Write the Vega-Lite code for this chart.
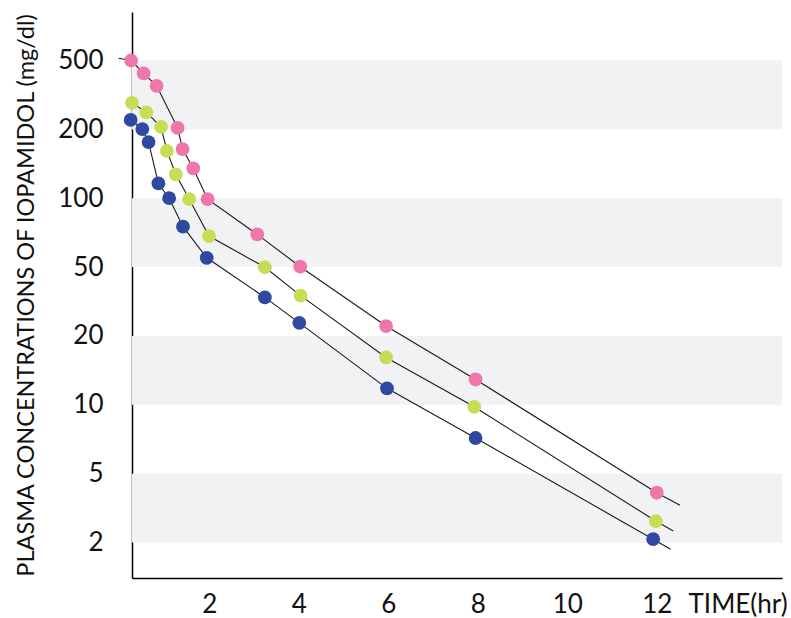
{
  "$schema": "https://vega.github.io/schema/vega-lite/v6.json",
  "width": 650,
  "height": 566,
  "autosize": {"type": "none"},
  "padding": {"left": 132, "top": 12, "right": 9, "bottom": 40},
  "background": "#ffffff",
  "config": {
    "view": {"stroke": null},
    "font": "Lato",
    "axis": {"labelFont": "Lato", "titleFont": "Lato", "labelColor": "#111111", "titleColor": "#111111", "titleFontWeight": "normal", "grid": false, "ticks": false, "tickSize": 0, "domainColor": "#000000", "domainWidth": 1.5}
  },
  "datasets": {
    "bands": [
      {"hi": 500, "lo": 200},
      {"hi": 100, "lo": 50},
      {"hi": 20, "lo": 10},
      {"hi": 5, "lo": 2}
    ],
    "series": [
      {"s": "A", "t": -0.03, "c": 515, "pt": false},
      {"s": "A", "t": 0.25, "c": 500, "pt": true},
      {"s": "A", "t": 0.53, "c": 421, "pt": true},
      {"s": "A", "t": 0.82, "c": 357, "pt": true},
      {"s": "A", "t": 1.29, "c": 204, "pt": true},
      {"s": "A", "t": 1.40, "c": 164, "pt": true},
      {"s": "A", "t": 1.64, "c": 135, "pt": true},
      {"s": "A", "t": 1.96, "c": 99, "pt": true},
      {"s": "A", "t": 3.07, "c": 69.5, "pt": true},
      {"s": "A", "t": 4.03, "c": 50.2, "pt": true},
      {"s": "A", "t": 5.95, "c": 22.8, "pt": true},
      {"s": "A", "t": 7.95, "c": 12.9, "pt": true},
      {"s": "A", "t": 12.0, "c": 3.88, "pt": true},
      {"s": "A", "t": 12.52, "c": 3.28, "pt": false},
      {"s": "B", "t": 0.27, "c": 285, "pt": true},
      {"s": "B", "t": 0.59, "c": 251, "pt": true},
      {"s": "B", "t": 0.92, "c": 207, "pt": true},
      {"s": "B", "t": 1.05, "c": 161, "pt": true},
      {"s": "B", "t": 1.25, "c": 127, "pt": true},
      {"s": "B", "t": 1.55, "c": 99, "pt": true},
      {"s": "B", "t": 1.99, "c": 68.3, "pt": true},
      {"s": "B", "t": 3.24, "c": 49.9, "pt": true},
      {"s": "B", "t": 4.04, "c": 34.2, "pt": true},
      {"s": "B", "t": 5.95, "c": 16.1, "pt": true},
      {"s": "B", "t": 7.92, "c": 9.8, "pt": true},
      {"s": "B", "t": 11.98, "c": 2.66, "pt": true},
      {"s": "B", "t": 12.37, "c": 2.33, "pt": false},
      {"s": "C", "t": 0.24, "c": 227, "pt": true},
      {"s": "C", "t": 0.50, "c": 201, "pt": true},
      {"s": "C", "t": 0.64, "c": 176, "pt": true},
      {"s": "C", "t": 0.86, "c": 116, "pt": true},
      {"s": "C", "t": 1.10, "c": 100, "pt": true},
      {"s": "C", "t": 1.41, "c": 75.1, "pt": true},
      {"s": "C", "t": 1.94, "c": 54.9, "pt": true},
      {"s": "C", "t": 3.24, "c": 33.4, "pt": true},
      {"s": "C", "t": 4.01, "c": 23.8, "pt": true},
      {"s": "C", "t": 5.97, "c": 11.8, "pt": true},
      {"s": "C", "t": 7.95, "c": 7.16, "pt": true},
      {"s": "C", "t": 11.92, "c": 2.09, "pt": true},
      {"s": "C", "t": 12.31, "c": 1.83, "pt": false}
    ]
  },
  "layer": [
    {
      "data": {"name": "bands"},
      "mark": {"type": "rect", "color": "#f1f2f4"},
      "encoding": {
        "y": {"field": "hi", "type": "quantitative", "scale": {"type": "log", "domain": [1.25, 2, 5, 10, 20, 50, 100, 200, 500, 950], "range": [566, 530.5, 461.7, 392.8, 323.9, 255.1, 186.2, 117.4, 48.5, 0], "nice": false},
          "axis": {"values": [2, 5, 10, 20, 50, 100, 200, 500], "format": "d", "labelFontSize": 26, "labelPadding": 29, "title": "PLASMA CONCENTRATIONS OF IOPAMIDOL (mg/dl)", "titleFontSize": 23.5, "titleX": -106, "titleY": 283, "titleBaseline": "middle", "titleAngle": -90, "titleAlign": "center"}},
        "y2": {"field": "lo"}
      }
    },
    {
      "data": {"name": "series"},
      "mark": {"type": "line", "color": "#1a1a1a", "strokeWidth": 1.1},
      "encoding": {
        "x": {"field": "t", "type": "quantitative", "scale": {"domain": [0.27, 14.8], "nice": false, "zero": false},
          "axis": {"values": [2, 4, 6, 8, 10, 12], "labelFontSize": 26, "labelPadding": 13, "labelBaseline": "top", "title": "TIME(hr)", "titleFontSize": 26, "titleAnchor": "start", "titleAlign": "left", "titleX": 556, "titleY": 13, "titleBaseline": "top"}},
        "y": {"field": "c", "type": "quantitative"},
        "detail": {"field": "s"}
      }
    },
    {
      "data": {"name": "series"},
      "transform": [{"filter": "datum.pt"}],
      "mark": {"type": "circle", "size": 190, "opacity": 1},
      "encoding": {
        "x": {"field": "t", "type": "quantitative"},
        "y": {"field": "c", "type": "quantitative"},
        "color": {"field": "s", "type": "nominal", "scale": {"domain": ["A", "B", "C"], "range": ["#ef76aa", "#c9dc55", "#2f49a0"]}, "legend": null}
      }
    }
  ]
}
